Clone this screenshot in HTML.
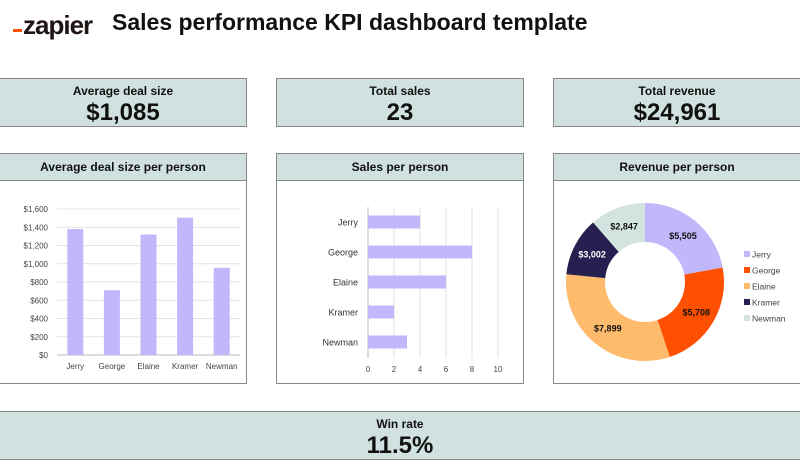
<!DOCTYPE html>
<html><head><meta charset="utf-8"><style>
*{margin:0;padding:0;box-sizing:border-box}
body{width:800px;height:460px;background:#fff;position:relative;overflow:hidden;font-family:"Liberation Sans",sans-serif;color:#111}
.box{position:absolute;background:#d0e1e0;border:1px solid #888;text-align:center}
.kpi .t{font-weight:bold;font-size:12px;margin-top:5px}
.kpi .v{font-weight:bold;font-size:24px;line-height:30px}
.panel{position:absolute;border:1px solid #888;background:#fff}
.panel .h{height:27px;background:#d0e1e0;border-bottom:1px solid #888;font-weight:bold;font-size:12px;text-align:center;line-height:26px}
svg text{font-family:"Liberation Sans",sans-serif}
</style></head><body>
<div style="position:absolute;left:13px;top:10px;font-weight:bold;font-size:26px;letter-spacing:-1px;color:#201515"><span style="display:inline-block;width:9px;height:3px;background:#ff4f00;vertical-align:2px;margin-right:1px"></span>zapier</div>
<div style="position:absolute;left:112px;top:9px;font-weight:bold;font-size:23px">Sales performance KPI dashboard template</div>

<div class="box kpi" style="left:-1px;top:78px;width:248px;height:49px"><div class="t">Average deal size</div><div class="v">$1,085</div></div>
<div class="box kpi" style="left:276px;top:78px;width:248px;height:49px"><div class="t">Total sales</div><div class="v">23</div></div>
<div class="box kpi" style="left:553px;top:78px;width:248px;height:49px"><div class="t">Total revenue</div><div class="v">$24,961</div></div>

<div class="panel" style="left:-1px;top:153px;width:248px;height:231px"><div class="h">Average deal size per person</div></div>
<div class="panel" style="left:276px;top:153px;width:248px;height:231px"><div class="h">Sales per person</div></div>
<div class="panel" style="left:553px;top:153px;width:248px;height:231px"><div class="h">Revenue per person</div></div>

<div class="box kpi" style="left:-1px;top:411px;width:802px;height:49px"><div class="t">Win rate</div><div class="v">11.5%</div></div>

<svg id="c" width="800" height="460" style="position:absolute;left:0;top:0"></svg>
<script>
const avgCats=["Jerry","George","Elaine","Kramer","Newman"];
const avgVals=[1380,710,1320,1505,955];
const avgTicks=[0,200,400,600,800,1000,1200,1400,1600];
const salesCats=["Jerry","George","Elaine","Kramer","Newman"];
const salesVals=[4,8,6,2,3];
const salesTicks=[0,2,4,6,8,10];
const revCats=["Jerry","George","Elaine","Kramer","Newman"];
const revVals=[5505,5708,7899,3002,2847];
const revLabels=["$5,505","$5,708","$7,899","$3,002","$2,847"];
const revColors=["#c1b7fb","#ff4f00","#ffbb6c","#25204f","#d3e3e0"];
const revText=["#111","#111","#111","#fff","#111"];

const svg=document.getElementById('c');
const NS='http://www.w3.org/2000/svg';
function mk(t,a,p){const e=document.createElementNS(NS,t);for(const k in a)e.setAttribute(k,a[k]);(p||svg).appendChild(e);return e;}

const y1=v=>355-(v/1600)*146;
const x1=i=>57+(i+0.5)*(183/5);
avgTicks.forEach(t=>{
  const l=mk('line',{x1:57,x2:240,y1:y1(t),y2:y1(t),stroke:t===0?'#bbb':'#e3e3e3','stroke-width':1});
  
  const tx=mk('text',{x:48,y:y1(t)+3,'font-size':8,'text-anchor':'end',fill:'#444'});tx.textContent='$'+t.toLocaleString('en-US');
  
});
avgVals.forEach((v,i)=>{
  const r=mk('rect',{x:x1(i)-8,y:y1(v),width:16,height:355-y1(v),fill:'#c1b7fb'});
  
  const tx=mk('text',{x:x1(i),y:369,'font-size':8,'text-anchor':'middle',fill:'#444'});tx.textContent=avgCats[i];
  
});

const x2=v=>368+(v/10)*130;
const y2=i=>222+i*30;
salesTicks.forEach(t=>{
  const l=mk('line',{x1:x2(t),x2:x2(t),y1:207,y2:358,stroke:t===0?'#bbb':'#e0e0e0','stroke-width':1});
  
  const tx=mk('text',{x:x2(t),y:372,'font-size':8,'text-anchor':'middle',fill:'#444'});tx.textContent=t;
  
});
salesVals.forEach((v,i)=>{
  const r=mk('rect',{x:x2(0),y:y2(i)-6.5,width:x2(v)-x2(0),height:13,fill:'#c1b7fb'});
  
  const tx=mk('text',{x:358,y:y2(i)+3.5,'font-size':9,'text-anchor':'end',fill:'#333'});tx.textContent=salesCats[i];
  
});

const cx=645,cy=282,R=79,r0=40;
const tot=revVals.reduce((a,b)=>a+b,0);
let a0=-Math.PI/2;
revVals.forEach((v,i)=>{
  const a1=a0+v/tot*2*Math.PI, lg=(a1-a0)>Math.PI?1:0;
  const P=(r,a)=>(cx+r*Math.cos(a)).toFixed(2)+','+(cy+r*Math.sin(a)).toFixed(2);
  const d='M'+P(R,a0)+'A'+R+','+R+' 0 '+lg+' 1 '+P(R,a1)+'L'+P(r0,a1)+'A'+r0+','+r0+' 0 '+lg+' 0 '+P(r0,a0)+'Z';
  const p=mk('path',{d:d,fill:revColors[i]});
  
  const am=(a0+a1)/2,rm=(R+r0)/2;
  const tx=mk('text',{x:cx+rm*Math.cos(am),y:cy+rm*Math.sin(am)+3,'font-size':9,'font-weight':'bold','text-anchor':'middle',fill:revText[i]});
  tx.textContent=revLabels[i];
  
  const g=mk('rect',{x:744,y:251+i*16,width:6,height:6,fill:revColors[i]});
  
  const lt=mk('text',{x:752,y:257.5+i*16,'font-size':8.5,fill:'#444'});lt.textContent=revCats[i];
  
  a0=a1;
});
</script>
</body></html>
